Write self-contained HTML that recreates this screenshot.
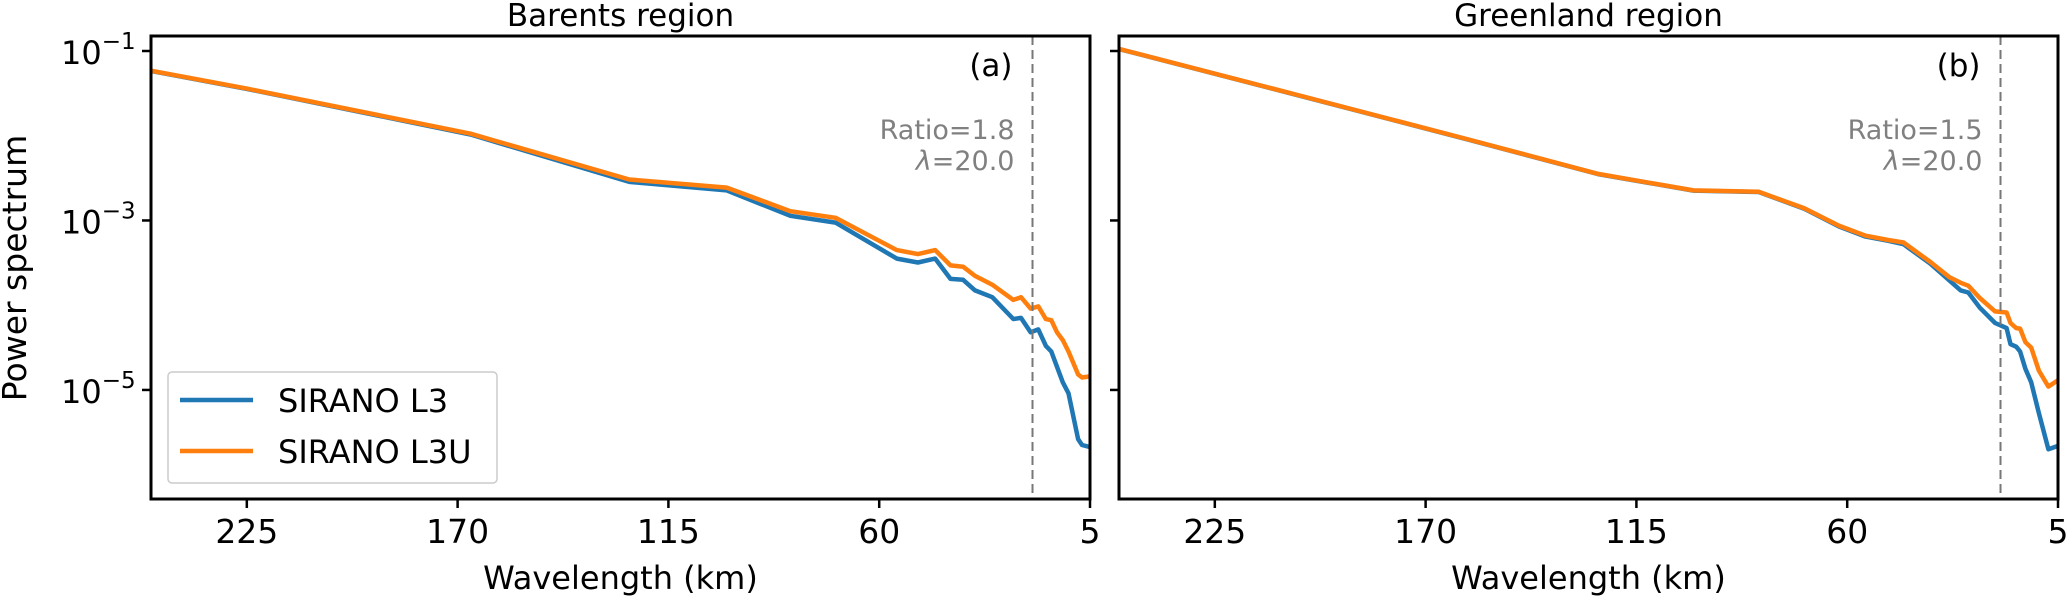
<!DOCTYPE html>
<html><head><meta charset="utf-8">
<style>
html,body{margin:0;padding:0;background:#fff;}
svg{display:block;font-family:"DejaVu Sans","Liberation Sans",sans-serif;}
</style></head>
<body>
<svg id="chart" width="2067" height="599" viewBox="0 0 2067 599" xmlns="http://www.w3.org/2000/svg"></svg>
<script>
// ---- data ----
const xTicks = [225, 170, 115, 60, 5];
const yTicksExp = [-1, -3, -5];
const panelTitles = ["Barents region", "Greenland region"];
const panelLetters = ["(a)", "(b)"];
const ratioLabels = ["Ratio=1.8", "Ratio=1.5"];
const cutoffLambda = [20.0, 20.0];
const seriesNames = ["SIRANO L3", "SIRANO L3U"];

// Barents (log10 power)
const lamA = [250, 225, 166.6, 125.2, 99.8, 83.2, 71.4, 55.4, 49.9, 45.4, 41.4, 38.1, 35.0, 30.5, 25.0, 23.0, 20.5, 18.5, 16.5, 15.1, 13.6, 12.1, 10.6, 8.1, 7.1, 5.0];
const l3A  = [-1.235, -1.447, -1.985, -2.545, -2.645, -2.945, -3.025, -3.45, -3.496, -3.45, -3.69, -3.70, -3.825, -3.906, -4.163, -4.15, -4.32, -4.285, -4.48, -4.546, -4.727, -4.91, -5.04, -5.58, -5.65, -5.674];
const l3uA = [-1.233, -1.444, -1.976, -2.517, -2.612, -2.89, -2.968, -3.35, -3.397, -3.35, -3.53, -3.545, -3.654, -3.758, -3.937, -3.906, -4.04, -4.014, -4.164, -4.177, -4.32, -4.412, -4.546, -4.817, -4.853, -4.84];
// Greenland
const lamB = [250, 202.9, 158.8, 125.0, 100.1, 83.1, 71.2, 62.2, 55.2, 49.3, 45.3, 38.3, 33.3, 30.4, 28.4, 25.4, 21.4, 18.4, 17.4, 15.9, 14.9, 13.5, 12.0, 10.0, 7.5, 5.0];
const l3B  = [-0.976, -1.527, -2.047, -2.453, -2.648, -2.664, -2.862, -3.07, -3.19, -3.24, -3.28, -3.51, -3.71, -3.825, -3.85, -4.03, -4.21, -4.27, -4.46, -4.49, -4.546, -4.75, -4.91, -5.27, -5.70, -5.66];
const l3uB = [-0.975, -1.525, -2.044, -2.45, -2.645, -2.661, -2.856, -3.06, -3.18, -3.23, -3.26, -3.49, -3.67, -3.735, -3.77, -3.915, -4.073, -4.086, -4.21, -4.27, -4.276, -4.435, -4.50, -4.77, -4.96, -4.885];

// ---- layout ----
const NS = "http://www.w3.org/2000/svg";
const svg = document.getElementById("chart");
const panels = [{x0:151, x1:1090}, {x0:1119, x1:2058}];
const yTop = 36, yBot = 499;
const xMin = 250, xMax = 5;
const logMax = -0.823, logMin = -6.287;
const panelData = [[lamA, l3A, l3uA], [lamB, l3B, l3uB]];
const colors = ["#1f77b4", "#ff7f0e"];

function mk(tag, attrs, parent){
  const e = document.createElementNS(NS, tag);
  for (const k in attrs) e.setAttribute(k, attrs[k]);
  (parent || svg).appendChild(e);
  return e;
}
function yScale(lg){ return yTop + (logMax - lg) / (logMax - logMin) * (yBot - yTop); }

panels.forEach((p, pi) => {
  const xScale = v => p.x0 + (xMin - v) / (xMin - xMax) * (p.x1 - p.x0);
  const g = mk("g", {});
  
  

  const clipId = "clip" + pi;
  const cp = mk("clipPath", {id: clipId}, g);
  mk("rect", {x: p.x0, y: yTop, width: p.x1 - p.x0, height: yBot - yTop}, cp);

  const [lam, s1, s2] = panelData[pi];
  [s1, s2].forEach((s, si) => {
    const d = lam.map((l, i) => (i ? "L" : "M") + xScale(l).toFixed(1) + " " + yScale(s[i]).toFixed(1)).join(" ");
    const path = mk("path", {d: d, fill: "none", stroke: colors[si], "stroke-width": 4.5, "stroke-linejoin": "round", "clip-path": "url(#" + clipId + ")"}, g);
    
    
  });

  const cx = xScale(cutoffLambda[pi]);
  const dl = mk("line", {x1: cx, x2: cx, y1: yTop, y2: yBot, stroke: "#777", "stroke-width": 2, "stroke-dasharray": "9,5"}, g);
  
  

  const fr = mk("rect", {x: p.x0, y: yTop, width: p.x1 - p.x0, height: yBot - yTop, fill: "none", stroke: "#000", "stroke-width": 3}, g);
  
  

  xTicks.forEach(t => {
    const x = xScale(t);
    const tk = mk("line", {x1: x, x2: x, y1: yBot, y2: yBot + 9, stroke: "#000", "stroke-width": 2.5}, g);
    
    
    const tl = mk("text", {x: x, y: 543, "text-anchor": "middle", "font-size": 33, fill: "#000"}, g);
    tl.textContent = t;
    
    
  });

  yTicksExp.forEach(e => {
    const y = yScale(e);
    const tk = mk("line", {x1: p.x0 - 9, x2: p.x0, y1: y, y2: y, stroke: "#000", "stroke-width": 2.5}, g);
    
    
    if (pi === 0) {
      const tl = mk("text", {x: 61, y: y + 13, "font-size": 32, fill: "#000"}, g);
      
      
      const t1 = mk("tspan", {}, tl); t1.textContent = "10";
      const t2 = mk("tspan", {dy: -15, "font-size": 23}, tl); t2.textContent = "\u2212" + Math.abs(e);
    }
  });

  const tt = mk("text", {x: (p.x0 + p.x1) / 2, y: 26, "text-anchor": "middle", "font-size": 31, fill: "#000"}, g);
  tt.textContent = panelTitles[pi];
  
  

  const lt = mk("text", {x: cx - 20, y: 76, "text-anchor": "end", "font-size": 31, fill: "#000"}, g);
  lt.textContent = panelLetters[pi];
  
  

  const r1 = mk("text", {x: cx - 18, y: 139, "text-anchor": "end", "font-size": 27, fill: "#808080"}, g);
  r1.textContent = ratioLabels[pi];
  
  
  const r2 = mk("text", {x: cx - 18, y: 170, "text-anchor": "end", "font-size": 27, fill: "#808080"}, g);
  
  
  const li = mk("tspan", {"font-style": "italic"}, r2); li.textContent = "\u03bb";
  const lv = mk("tspan", {}, r2); lv.textContent = "=" + cutoffLambda[pi].toFixed(1);

  const xl = mk("text", {x: (p.x0 + p.x1) / 2, y: 589, "text-anchor": "middle", "font-size": 32, fill: "#000"}, g);
  xl.textContent = "Wavelength (km)";
  
  
});

const yl = mk("text", {x: 0, y: 0, "text-anchor": "middle", "font-size": 33, fill: "#000", transform: "translate(26,268) rotate(-90)"});
yl.textContent = "Power spectrum";



const lg = mk("g", {});


mk("rect", {x: 168, y: 372, width: 329, height: 111, rx: 4, fill: "#fff", "fill-opacity": 0.8, stroke: "#ccc", "stroke-width": 1.5}, lg);
seriesNames.forEach((n, i) => {
  const y = 400 + i * 51;
  const e = mk("g", {}, lg);
  
  
  mk("line", {x1: 180, x2: 253, y1: y, y2: y, stroke: colors[i], "stroke-width": 4.5}, e);
  const t = mk("text", {x: 278, y: y + 12, "font-size": 32, fill: "#000"}, e);
  t.textContent = n;
});
</script>
</body></html>
